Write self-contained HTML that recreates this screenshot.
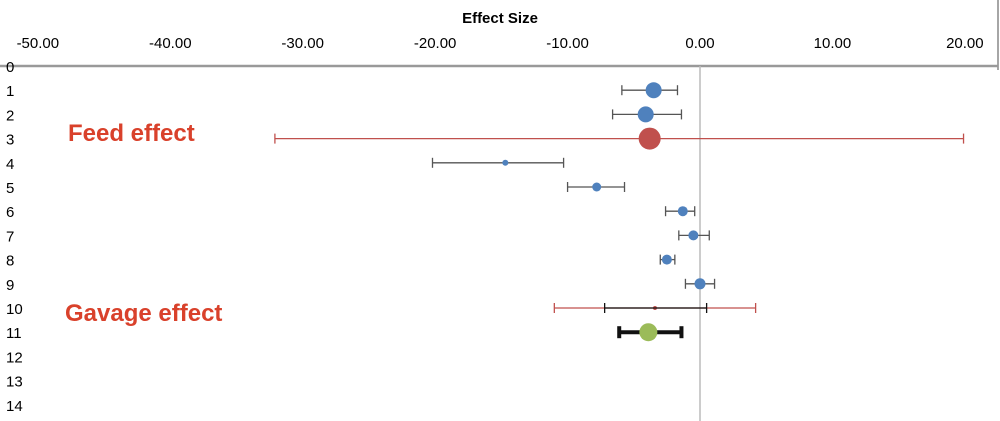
<!DOCTYPE html>
<html><head><meta charset="utf-8"><style>
body{margin:0;background:#fff;width:1000px;height:421px;overflow:hidden}
svg{display:block;font-family:"Liberation Sans",sans-serif}
</style></head><body>
<svg id="c" width="1000" height="421">
<text x="500" y="23" text-anchor="middle" font-size="15" font-weight="bold">Effect Size</text>
<line x1="998" y1="0" x2="998" y2="70" stroke="#888" stroke-width="1.5"/>
<line x1="0" y1="66" x2="998" y2="66" stroke="#999" stroke-width="2.5"/>
<line x1="700" y1="66" x2="700" y2="421" stroke="#bbb" stroke-width="1.5"/>
<text x="68" y="141" font-size="24" font-weight="bold" fill="#d9412b">Feed effect</text>
<text x="65" y="321" font-size="24" font-weight="bold" fill="#d9412b">Gavage effect</text>
<g id="g"></g>
</svg>
<script>
const ticks=[-50,-40,-30,-20,-10,0,10,20];
const rows=[0,1,2,3,4,5,6,7,8,9,10,11,12,13,14];
const rowIds=[1,2,3,4,5,6,7,8,9,10,10,11];
const est=[-3.5,-4.1,-3.8,-14.7,-7.8,-1.3,-0.5,-2.5,0.0,-3.4,-3.4,-3.9];
const lo=[-5.9,-6.6,-32.1,-20.2,-10.0,-2.6,-1.6,-3.0,-1.1,-11.0,-7.2,-6.1];
const hi=[-1.7,-1.4,19.9,-10.3,-5.7,-0.4,0.7,-1.9,1.1,4.2,0.5,-1.4];
const weight=[8,8,11,3,4.5,5,5,5,5.5,2,0,9];
const kind=['b','b','r','b','b','b','b','b','b','r','k','g'];
const xs=v=>700+v*13.243, ys=i=>66+i*24.2;
const g=document.getElementById('g'),NS='http://www.w3.org/2000/svg';
function mk(t,a){const e=document.createElementNS(NS,t);for(const k in a)e.setAttribute(k,a[k]);g.appendChild(e);return e;}
ticks.forEach(t=>{const e=mk('text',{x:xs(t),y:48,'text-anchor':'middle','font-size':15});e.textContent=t.toFixed(2);

});
rows.forEach(r=>{const e=mk('text',{x:6,y:ys(r)+6,'font-size':15});e.textContent=r;

});
const col={b:'#555',r:'#c0504d',k:'#111',g:'#111'},fill={b:'#4f81bd',r:'#c0504d',k:'#c0504d',g:'#9bbb59'};
est.forEach((v,i)=>{const y=ys(rowIds[i]),c=col[kind[i]],w=kind[i]=='g'?4:1.3,cap=kind[i]=='g'?6:5;
const l=mk('line',{x1:xs(lo[i]),x2:xs(hi[i]),y1:y,y2:y,stroke:c,'stroke-width':w});


[lo[i],hi[i]].forEach(b=>{const cp=mk('line',{x1:xs(b),x2:xs(b),y1:y-cap,y2:y+cap,stroke:c,'stroke-width':kind[i]=='g'?4:1.3});

});
if(weight[i]>0){const p=mk('circle',{cx:xs(v),cy:y,r:weight[i],fill:fill[kind[i]]});

}});
</script>
</body></html>
